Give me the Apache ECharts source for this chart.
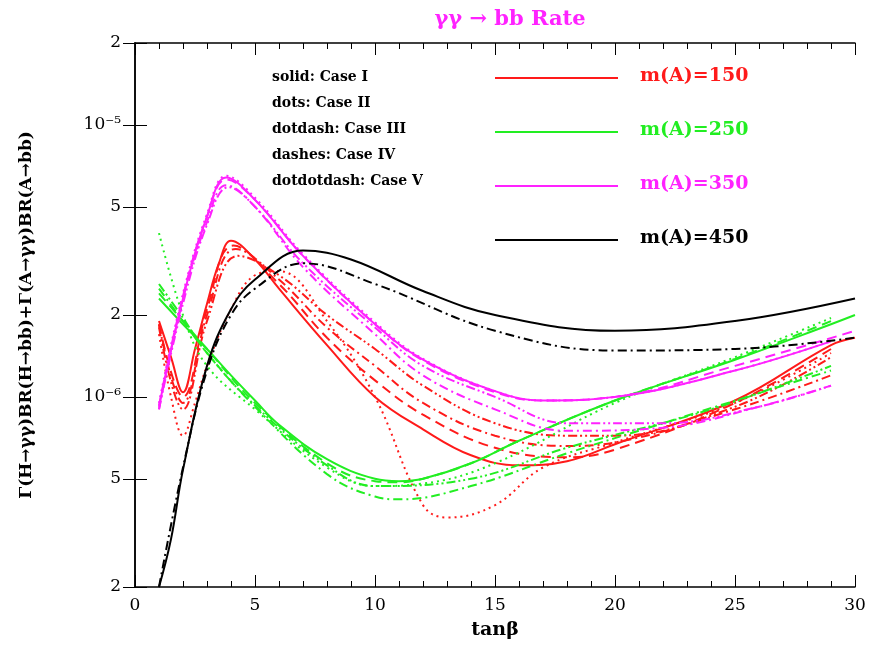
<!DOCTYPE html><html><head><meta charset="utf-8">
<script src="https://cdn.jsdelivr.net/npm/echarts@6/dist/echarts.min.js"></script>
<style>html,body{margin:0;background:#fff}#c{width:871px;height:654px}</style></head><body><div id="c"></div>
<script>
// values in units of 1e-6
const yTicks=[0.2,0.5,1,2,5,10,20];
const yTickLabels=['2','5','10⁻⁶','2','5','10⁻⁵','2'];
const r150_solid=[[1,1.9],[1.5,1.4],[2,1.04],[2.5,1.5],[3,2.2],[3.5,3.1],[4,3.75],[5,3.2],[6,2.5],[8,1.55],[10,1.0],[12,0.76],[14,0.61],[16,0.56],[18,0.58],[20,0.67],[25,0.97],[29,1.55],[30,1.65]];
const r150_dots=[[1,1.7],[1.5,1.0],[2,0.72],[2.5,0.95],[3,1.3],[4,2.1],[5,2.8],[6,2.9],[8,1.9],[10,1.0],[12,0.4],[13,0.36],[15,0.4],[17,0.55],[20,0.68],[25,0.95],[29,1.45]];
const r150_dotdash=[[1,1.85],[2,0.95],[3,2.0],[4.2,3.5],[6,2.7],[8,1.8],[10,1.3],[12,0.95],[15,0.72],[18,0.66],[20,0.68],[25,0.9],[29,1.2]];
const r150_dashes=[[1,1.85],[2,1.0],[3,2.1],[4.1,3.6],[6,2.6],[8,1.65],[10,1.15],[12,0.86],[15,0.65],[18,0.6],[20,0.64],[25,0.95],[29,1.5]];
const r150_dotdotdash=[[1,1.8],[2,0.9],[3,1.9],[4.3,3.3],[6,2.8],[8,2.0],[10,1.5],[12,1.1],[15,0.8],[18,0.72],[20,0.72],[25,0.92],[29,1.4]];
const g250_solid=[[1,2.3],[2,1.85],[3,1.5],[4,1.2],[5,0.97],[6,0.79],[8,0.59],[10,0.5],[11,0.49],[12,0.5],[14,0.57],[16,0.69],[20,0.97],[25,1.37],[29,1.85],[30,2.0]];
const g250_dots=[[1,4.0],[2,2.0],[3,1.3],[5,0.9],[8,0.55],[10,0.47],[12,0.48],[15,0.57],[20,0.95],[25,1.4],[29,1.95]];
const g250_dotdash=[[1,2.5],[2,1.9],[3,1.45],[5,0.92],[8,0.52],[10,0.43],[11,0.42],[14,0.47],[18,0.62],[22,0.8],[29,1.25]];
const g250_dashes=[[1,2.4],[2,1.9],[3,1.5],[5,0.95],[8,0.57],[10,0.49],[11,0.485],[12,0.5],[14,0.57],[16,0.69],[20,0.97],[25,1.38],[29,1.9]];
const g250_dotdotdash=[[1,2.6],[2,1.95],[3,1.45],[5,0.93],[8,0.56],[10,0.47],[14,0.5],[18,0.65],[24,0.9],[29,1.3]];
const m350_solid=[[1,0.92],[2,2.3],[3,4.6],[3.8,6.4],[5,5.3],[7,3.3],[10,1.85],[12,1.37],[15,1.05],[17,0.97],[20,1.0],[25,1.25],[29,1.6]];
const m350_dots=[[1,0.95],[2,2.4],[3,4.7],[3.8,6.5],[5,5.4],[7,3.35],[10,1.88],[12,1.38],[15,1.05],[17,0.97],[20,1.0],[25,1.25],[29,1.6]];
const m350_dotdash=[[1,0.9],[2,2.3],[3,4.4],[3.8,6.0],[5,5.0],[7,3.0],[10,1.7],[12,1.2],[15,0.9],[18,0.75],[22,0.77],[26,0.92],[29,1.1]];
const m350_dashes=[[1,0.93],[2,2.35],[3,4.6],[3.8,6.3],[5,5.3],[7,3.3],[10,1.85],[12,1.36],[15,1.04],[17,0.97],[20,1.0],[25,1.3],[30,1.75]];
const m350_dotdotdash=[[1,0.9],[2,2.2],[3,4.3],[3.9,5.9],[5,5.0],[7,3.1],[10,1.8],[12,1.3],[15,1.0],[18,0.8],[22,0.8],[26,0.92],[29,1.1]];
const b450_solid=[[1,0.2],[1.5,0.3],[2,0.54],[3,1.3],[4,2.1],[5,2.7],[7,3.45],[9,3.2],[12,2.45],[15,2.0],[20,1.75],[25,1.9],[30,2.3]];
const b450_dotdash=[[1,0.2],[2,0.55],[3,1.25],[4,2.0],[5,2.5],[7,3.1],[10,2.6],[15,1.75],[20,1.48],[25,1.5],[30,1.65]];
const xName='tanβ';
const yName='Γ(H→γγ)BR(H→bb)+Γ(A→γγ)BR(A→bb)';
const legendCases=['solid: Case I','dots: Case II','dotdash: Case III','dashes: Case IV','dotdotdash: Case V'];
const legendMasses=['m(A)=150','m(A)=250','m(A)=350','m(A)=450'];

const RED='#ff1a1a',GRN='#22ee22',MAG='#ff22ff',BLK='#000';
const dash={solid:'solid',dots:[2,4],dotdash:[9,4,2,4],dashes:[10,6],dotdotdash:[9,3,2,3,2,3]};
function s(d,c,t){return {type:'line',data:d,smooth:0.4,showSymbol:false,symbol:'none',lineStyle:{color:c,width:2,type:dash[t]},z:3};}
const series=[
s(r150_solid,RED,'solid'),s(r150_dots,RED,'dots'),s(r150_dotdash,RED,'dotdash'),s(r150_dashes,RED,'dashes'),s(r150_dotdotdash,RED,'dotdotdash'),
s(g250_solid,GRN,'solid'),s(g250_dots,GRN,'dots'),s(g250_dotdash,GRN,'dotdash'),s(g250_dashes,GRN,'dashes'),s(g250_dotdotdash,GRN,'dotdotdash'),
s(m350_solid,MAG,'solid'),s(m350_dots,MAG,'dots'),s(m350_dotdash,MAG,'dotdash'),s(m350_dashes,MAG,'dashes'),s(m350_dotdotdash,MAG,'dotdotdash'),
s(b450_solid,BLK,'solid'),s(b450_dotdash,BLK,'dotdash')];
const F='DejaVu Serif';
const graphic=[];
legendCases.forEach((t,i)=>graphic.push({type:'text',left:272,top:70+i*26,style:{text:t,font:'bold 14px '+F,fill:'#000'}}));
const mc=[RED,GRN,MAG,BLK];
legendMasses.forEach((t,i)=>{
 graphic.push({type:'line',shape:{x1:495,y1:78+i*54,x2:618,y2:78+i*54},style:{stroke:mc[i],lineWidth:2}});
 graphic.push({type:'text',left:640,top:67+i*54,style:{text:t,font:'bold 19px '+F,fill:mc[i]}});
});
const yLab=v=>{const i=yTicks.findIndex(t=>Math.abs(t-v)<1e-9);return i<0?'':yTickLabels[i];};
const chart=echarts.init(document.getElementById('c'));
chart.setOption({animation:false,
title:{text:'γγ → bb Rate',left:505,top:4,textAlign:'center',textStyle:{color:MAG,fontFamily:F,fontSize:21,fontWeight:'bold'}},
grid:{left:135,right:16,top:43,bottom:67},
xAxis:[{type:'value',min:0,max:30,interval:5,name:xName,nameLocation:'middle',nameGap:34,nameTextStyle:{fontFamily:F,fontSize:19,fontWeight:'bold',color:'#000'},
 axisLine:{lineStyle:{color:'#000',width:1.5}},axisTick:{inside:true,length:12,lineStyle:{color:'#000'}},minorTick:{show:true,splitNumber:5,length:6,lineStyle:{color:'#000'}},
 axisLabel:{fontFamily:F,fontSize:17,color:'#000',margin:10},splitLine:{show:false}},
 {type:'value',position:'top',min:0,max:30,interval:5,axisLine:{lineStyle:{color:'#000',width:1.5}},axisTick:{inside:true,length:12,lineStyle:{color:'#000'}},minorTick:{show:true,splitNumber:5,length:6,lineStyle:{color:'#000'}},axisLabel:{show:false},splitLine:{show:false}}],
yAxis:[{type:'log',min:0.2,max:20,logBase:10,name:yName,nameLocation:'middle',nameGap:100,nameTextStyle:{fontFamily:F,fontSize:17,fontWeight:'bold',color:'#000'},
 axisLine:{show:true,lineStyle:{color:'#000',width:1.5}},axisTick:{inside:true,length:12,customValues:yTicks,lineStyle:{color:'#000'}},
 axisLabel:{customValues:yTicks,formatter:yLab,fontFamily:F,fontSize:17,color:'#000',margin:14},splitLine:{show:false}},
 {type:'log',position:'right',min:0.2,max:20,logBase:10,axisLine:{show:true,lineStyle:{color:'#000',width:1.5}},axisTick:{inside:true,length:12,customValues:yTicks,lineStyle:{color:'#000'}},axisLabel:{show:false},splitLine:{show:false}}],
series:series,graphic:graphic});
</script></body></html>
